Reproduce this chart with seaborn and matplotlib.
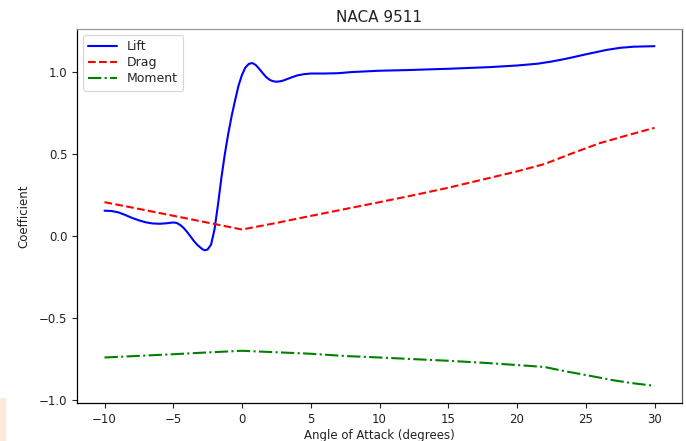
import matplotlib
matplotlib.use("Agg")
import matplotlib.pyplot as plt
import seaborn as sns
from matplotlib.patches import Rectangle

# ---- data ----
lift_alpha = [-10, -9.5, -9, -8.5, -8, -7.5, -7, -6.5, -6, -5.5, -5, -4.75, -4.5,
              -4.25, -4, -3.75, -3.5, -3.25, -3, -2.85, -2.7, -2.5, -2.25, -2,
              -1.75, -1.5, -1.25, -1, -0.75, -0.5, -0.25, 0, 0.25, 0.5, 0.75, 1,
              1.25, 1.5, 1.75, 2, 2.25, 2.5, 2.75, 3, 3.5, 4, 4.5, 5, 6, 7, 8, 10,
              12, 15, 18, 20, 21.5, 22.5, 23.5, 25, 26.5, 27.5, 28.5, 30]
lift_cl = [0.155, 0.153, 0.145, 0.129, 0.111, 0.096, 0.084, 0.077, 0.075, 0.078,
           0.083, 0.080, 0.068, 0.050, 0.026, -0.002, -0.030, -0.054, -0.072,
           -0.082, -0.087, -0.082, -0.052, 0.040, 0.190, 0.355, 0.500, 0.625,
           0.735, 0.830, 0.920, 0.985, 1.030, 1.052, 1.057, 1.045, 1.022, 0.996,
           0.972, 0.955, 0.946, 0.943, 0.945, 0.950, 0.966, 0.981, 0.989, 0.993,
           0.993, 0.995, 1.002, 1.010, 1.014, 1.022, 1.032, 1.042, 1.053, 1.066,
           1.082, 1.110, 1.137, 1.150, 1.157, 1.160]

drag_alpha = [-10, -7.5, -5, -2.5, 0, 2.5, 5, 7.5, 10, 12.5, 15, 17.5, 20, 22, 24,
              26, 28, 30]
drag_cd = [0.207, 0.166, 0.124, 0.082, 0.040, 0.080, 0.123, 0.165, 0.207, 0.250,
           0.295, 0.345, 0.395, 0.440, 0.505, 0.567, 0.615, 0.661]

moment_alpha = [-10, -7.5, -5, -2.5, 0, 2.5, 5, 7.5, 10, 12.5, 15, 17.5, 20, 22,
                23.5, 25, 27, 28.5, 30]
moment_cm = [-0.742, -0.732, -0.722, -0.711, -0.701, -0.710, -0.719, -0.733, -0.742,
             -0.752, -0.762, -0.774, -0.788, -0.800, -0.826, -0.849, -0.881, -0.900,
             -0.915]

title = "NACA 9511"
xlabel = "Angle of Attack (degrees)"
ylabel = "Coefficient"

# ---- plot ----
sns.set_style("ticks", {"axes.edgecolor": "black"})
plt.rcParams["font.family"] = ["DejaVu Sans"]

fig = plt.figure(figsize=(6.86, 4.41), dpi=100)
ax = fig.add_axes([77 / 686, 1 - 403 / 441, (682 - 77) / 686, (403 - 29) / 441])

lw = 1.5
sns.lineplot(x=lift_alpha, y=lift_cl, ax=ax, color="blue", linestyle="-",
             linewidth=lw, label="Lift", sort=False)
sns.lineplot(x=drag_alpha, y=drag_cd, ax=ax, color="red", linestyle="--",
             linewidth=lw, label="Drag", sort=False)
sns.lineplot(x=moment_alpha, y=moment_cm, ax=ax, color="green", linestyle="-.",
             linewidth=lw, label="Moment", sort=False)

ax.set_xlim(-12, 32)
ax.set_ylim(-1.02, 1.265)
ax.set_xticks([-10, -5, 0, 5, 10, 15, 20, 25, 30])
ax.set_yticks([-1.0, -0.5, 0.0, 0.5, 1.0])
ax.tick_params(labelsize=8.5, length=3.5, width=0.8, colors="#222222")
for s in ax.spines.values():
    s.set_linewidth(0.9)
    s.set_visible(True)
ax.spines["top"].set_color("#999999")
ax.spines["right"].set_color("#555555")

ax.set_title(title, fontsize=11, color="#222222", pad=5)
ax.set_xlabel(xlabel, fontsize=8.5, color="#222222", labelpad=2)
ax.set_ylabel(ylabel, fontsize=8.5, color="#222222", labelpad=6)

leg = ax.legend(loc="upper left", fontsize=9, frameon=True, borderpad=0.4,
                handlelength=2.3, labelspacing=0.25, borderaxespad=0.5)
leg.get_frame().set_edgecolor("#cccccc")
leg.get_frame().set_linewidth(0.8)

# small peach patch at the bottom-left edge of the screenshot
fig.patches.append(Rectangle((0, 0), 6 / 686, 43 / 441, transform=fig.transFigure,
                             facecolor="#fde9d6", edgecolor="none", zorder=0))

fig.savefig("out.png", dpi=100)
